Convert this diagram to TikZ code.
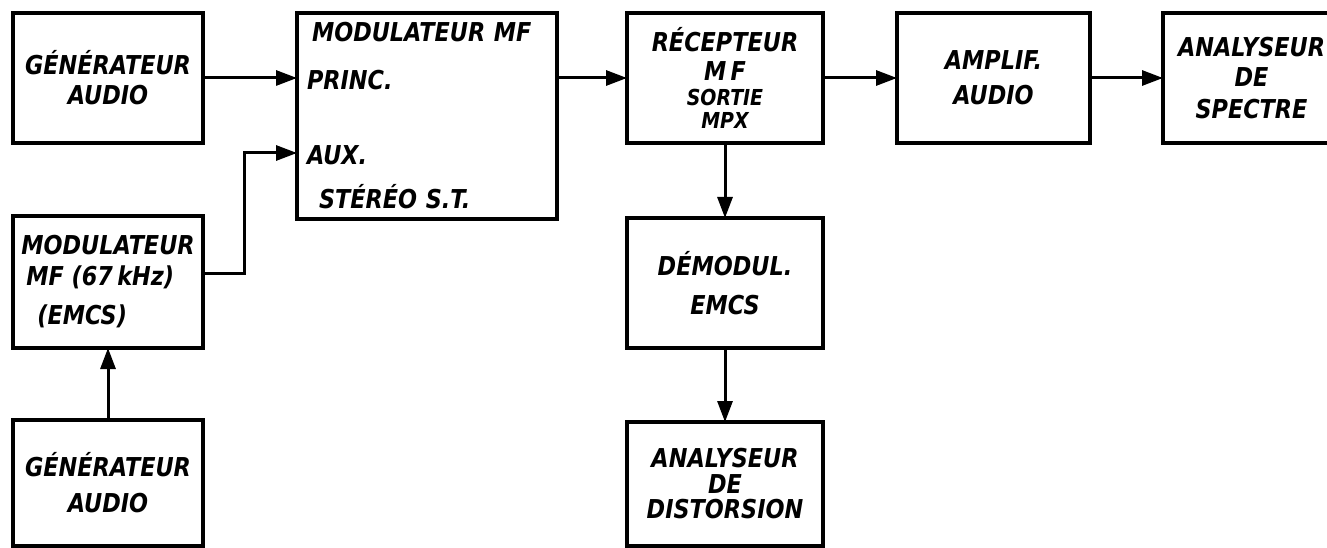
\documentclass[tikz,border=0pt]{standalone}
\usepackage{fontspec}
\setmainfont{DejaVu Sans}[FakeStretch=0.86]
\usepackage{tikz}
\usetikzlibrary{
    positioning,
    arrows.meta
}
\newcommand\manus{\fontsize{26}{30}\selectfont\bfseries\itshape}
\newcommand\petit{\fontsize{22}{24}\selectfont}

\begin{document}
\begin{tikzpicture}[
    x=1pt, y=1pt,
    bloc/.style={rectangle, draw, line width=4pt, outer sep=0pt, inner sep=4pt, align=center, font=\manus},
    fl/.style={line width=3pt, -{Triangle[length=21pt, width=15pt]}},
]
\useasboundingbox (0,0) rectangle (1327,-548);

\node[bloc, anchor=north west, minimum width=190pt, minimum height=130pt] (gen1) at (13,-13) {GÉNÉRATEUR\\AUDIO};

\node[bloc, right=94pt of gen1.north east, anchor=north west, minimum width=260pt, minimum height=206pt, align=left, text width=240pt] (modp) {%
  \hspace*{5pt}MODULATEUR MF\\[18pt]
  PRINC.\\[45pt]
  AUX.\\[14pt]
  \hspace*{12pt}STÉRÉO S.T.};

\node[bloc, right=70pt of modp.north east, anchor=north west, minimum width=196pt, minimum height=130pt] (recv) {%
  RÉCEPTEUR\\[-1pt]
  M\,F\\[-5pt]
  {\petit SORTIE}\\[-7pt]
  {\petit MPX}};

\node[bloc, right=74pt of recv, minimum width=193pt, minimum height=130pt] (ampl) {AMPLIF.\\[5pt]AUDIO};

\node[bloc, right=73pt of ampl, minimum width=177pt, minimum height=130pt] (spec) {ANALYSEUR\\DE\\[2pt]SPECTRE};

\node[bloc, below=73pt of gen1, minimum width=190pt, minimum height=132pt, align=left] (emcs) {%
  MODULATEUR\\[1pt]
  \hspace*{5pt}MF (67\,kHz)\\[9pt]
  \hspace*{16pt}(EMCS)};

\node[bloc, below=72pt of emcs, minimum width=190pt, minimum height=126pt] (gen2) {GÉNÉRATEUR\\[6pt]AUDIO};

\node[bloc, below=75pt of recv, minimum width=196pt, minimum height=130pt] (demod) {DÉMODUL.\\[9pt]EMCS};

\node[bloc, below=74pt of demod, minimum width=196pt, minimum height=124pt] (dist) {ANALYSEUR\\[-4pt]DE\\[-5pt]DISTORSION};

% liaisons
\coordinate[below=140pt of modp.north west] (aux);
\draw[fl] (gen1.east) -- (gen1.east -| modp.west);
\draw[fl] ([yshift=9pt]emcs.east) -- ++(41,0) |- (aux);
\draw[fl] (gen2.north) -- (emcs.south);
\draw[fl] (recv.west -| modp.east) -- (recv.west);
\draw[fl] (recv.east) -- (ampl.west);
\draw[fl] (ampl.east) -- (spec.west);
\draw[fl] (recv.south) -- (demod.north);
\draw[fl] (demod.south) -- (dist.north);
\end{tikzpicture}
\end{document}
